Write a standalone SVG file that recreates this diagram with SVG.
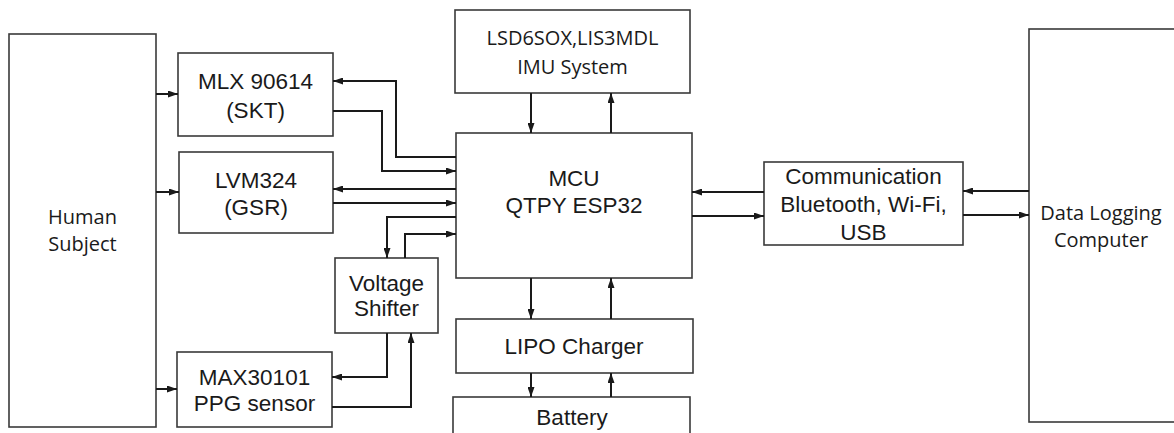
<svg xmlns="http://www.w3.org/2000/svg" width="1174" height="433" viewBox="0 0 1174 433">
<style>
.box{fill:#fff;stroke:#3a3a3a;stroke-width:1.6}
.t{font-family:"Liberation Sans",Arial,sans-serif;font-size:22.5px;fill:#1a1a1a;text-anchor:middle}
.c{font-family:"Open Sans","Noto Sans",sans-serif;font-size:20px;fill:#1a1a1a;text-anchor:middle}
.ln{fill:none;stroke:#1a1a1a;stroke-width:2;marker-end:url(#ah)}
</style>
<defs>
<marker id="ah" markerUnits="userSpaceOnUse" markerWidth="10" markerHeight="7" refX="10" refY="3.5" orient="auto">
<path d="M0,0 L10,3.5 L0,7 z" fill="#1a1a1a"/>
</marker>
</defs>
<rect width="1174" height="433" fill="#fff"/>
<g id="human"><rect class="box" x="9" y="34" width="147" height="393"/><text class="c" x="82.5" y="224">Human</text><text class="c" x="82.5" y="251">Subject</text></g>
<g id="mlx"><rect class="box" x="178" y="53" width="155" height="83"/><text class="t" x="255.5" y="89">MLX 90614</text><text class="t" x="255.5" y="118">(SKT)</text></g>
<g id="lvm"><rect class="box" x="179" y="152" width="154" height="81"/><text class="t" x="256" y="188">LVM324</text><text class="t" x="256" y="215">(GSR)</text></g>
<g id="vs"><rect class="box" x="335" y="258" width="103" height="75"/><text class="t" x="386.5" y="291">Voltage</text><text class="t" x="386.5" y="316">Shifter</text></g>
<g id="max"><rect class="box" x="177" y="352" width="155" height="75"/><text class="t" x="254.5" y="385">MAX30101</text><text class="t" x="254.5" y="411">PPG sensor</text></g>
<g id="imu"><rect class="box" x="455" y="10" width="235" height="83"/><text class="c" x="572.5" y="45">LSD6SOX,LIS3MDL</text><text class="c" x="572.5" y="74">IMU System</text></g>
<g id="mcu"><rect class="box" x="456" y="133" width="236" height="145"/><text class="t" x="574" y="186">MCU</text><text class="t" x="574" y="213">QTPY ESP32</text></g>
<g id="lipo"><rect class="box" x="456" y="319" width="237" height="54"/><text class="t" x="574" y="354">LIPO Charger</text></g>
<g id="battery"><rect class="box" x="453" y="397" width="237" height="50"/><text class="t" x="572" y="425">Battery</text></g>
<g id="comm"><rect class="box" x="764" y="162" width="199" height="83"/><text class="t" x="863.5" y="184">Communication</text><text class="t" x="863.5" y="212">Bluetooth, Wi-Fi,</text><text class="t" x="863.5" y="240">USB</text></g>
<g id="dlc"><rect class="box" x="1029" y="29" width="160" height="393"/><text class="c" x="1101" y="220">Data Logging</text><text class="c" x="1101" y="247">Computer</text></g>
<g id="connectors">
<path class="ln" d="M156,94 H178"/>
<path class="ln" d="M156,192 H179"/>
<path class="ln" d="M156,389 H177"/>
<path class="ln" d="M456,157 H396 V81 H333"/>
<path class="ln" d="M333,111 H382 V171 H456"/>
<path class="ln" d="M456,189 H333"/>
<path class="ln" d="M333,203 H456"/>
<path class="ln" d="M456,217 H387 V258"/>
<path class="ln" d="M405,258 V234 H456"/>
<path class="ln" d="M387,333 V377 H332"/>
<path class="ln" d="M332,407 H411 V333"/>
<path class="ln" d="M531,93 V133"/>
<path class="ln" d="M611,133 V93"/>
<path class="ln" d="M531,278 V319"/>
<path class="ln" d="M611,319 V278"/>
<path class="ln" d="M531,373 V397"/>
<path class="ln" d="M611,397 V373"/>
<path class="ln" d="M764,192 H692"/>
<path class="ln" d="M692,216 H764"/>
<path class="ln" d="M1029,191 H963"/>
<path class="ln" d="M963,215 H1029"/>
</g>
</svg>
